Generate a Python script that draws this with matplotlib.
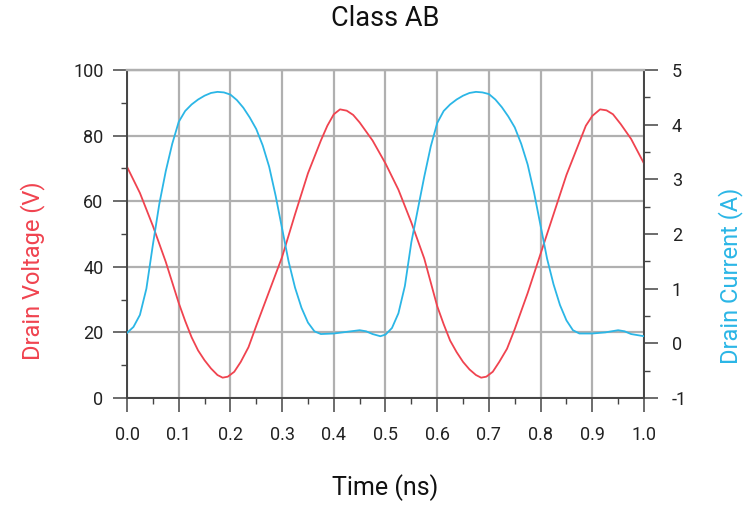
import matplotlib
matplotlib.use("Agg")
import matplotlib.pyplot as plt
from matplotlib.ticker import MultipleLocator

plt.rcParams['font.family'] = ['Roboto', 'DejaVu Sans']
plt.rcParams['axes.unicode_minus'] = False

# Drain voltage waveform (V)
time_v = [0.000, 0.025, 0.050, 0.075, 0.100, 0.1125, 0.125, 0.1375, 0.150, 0.1625,
          0.175, 0.185, 0.195, 0.2075, 0.220, 0.235, 0.250, 0.275, 0.300, 0.325,
          0.350, 0.375, 0.3875, 0.400, 0.412, 0.425, 0.4375, 0.450, 0.475, 0.500,
          0.525, 0.550, 0.575, 0.600, 0.6125, 0.625, 0.6375, 0.650, 0.6625, 0.675,
          0.685, 0.695, 0.7075, 0.720, 0.735, 0.750, 0.775, 0.800, 0.825, 0.850,
          0.875, 0.8875, 0.900, 0.915, 0.9275, 0.940, 0.955, 0.975, 1.000]
voltage = [70.5, 62.5, 52.5, 41.5, 29.0, 23.5, 18.5, 14.5, 11.5, 9.0,
           7.0, 6.2, 6.5, 8.0, 11.0, 15.5, 22.0, 32.5, 43.0, 56.0,
           68.5, 78.5, 83.0, 86.5, 88.0, 87.6, 86.3, 84.0, 78.5, 71.5,
           63.5, 53.5, 42.5, 28.0, 22.5, 17.5, 14.0, 11.0, 8.7, 7.0,
           6.2, 6.5, 8.0, 11.0, 15.0, 21.0, 32.0, 44.0, 56.0, 68.0,
           78.0, 83.0, 86.0, 88.0, 87.7, 86.5, 83.5, 79.0, 71.5]

# Drain current waveform (A)
time_i = [0.000, 0.0125, 0.025, 0.0375, 0.050, 0.0625, 0.075, 0.0875, 0.100, 0.1125,
          0.125, 0.1375, 0.150, 0.1625, 0.175, 0.1875, 0.200, 0.2125, 0.225, 0.2375,
          0.250, 0.2625, 0.275, 0.2875, 0.300, 0.3125, 0.325, 0.3375, 0.350, 0.3625,
          0.375, 0.400, 0.425, 0.450, 0.4625, 0.475, 0.490, 0.500, 0.5125, 0.525,
          0.5375, 0.550, 0.5625, 0.575, 0.5875, 0.600, 0.6125, 0.625, 0.6375, 0.650,
          0.6625, 0.675, 0.6875, 0.700, 0.7125, 0.725, 0.7375, 0.750, 0.7625, 0.775,
          0.7875, 0.800, 0.8125, 0.825, 0.8375, 0.850, 0.8625, 0.875, 0.900, 0.925,
          0.950, 0.9625, 0.975, 1.000]
current = [0.19, 0.30, 0.52, 1.00, 1.80, 2.55, 3.15, 3.65, 4.05, 4.25,
           4.37, 4.46, 4.53, 4.58, 4.60, 4.59, 4.55, 4.45, 4.31, 4.13,
           3.92, 3.62, 3.23, 2.70, 2.10, 1.50, 1.02, 0.65, 0.38, 0.22,
           0.17, 0.18, 0.21, 0.24, 0.22, 0.17, 0.13, 0.16, 0.28, 0.55,
           1.05, 1.85, 2.45, 3.05, 3.60, 4.03, 4.25, 4.37, 4.46, 4.53,
           4.58, 4.60, 4.59, 4.56, 4.46, 4.32, 4.15, 3.95, 3.65, 3.27,
           2.75, 2.15, 1.55, 1.08, 0.70, 0.42, 0.24, 0.18, 0.18, 0.20,
           0.24, 0.22, 0.17, 0.13]

x_ticks = [0.0, 0.1, 0.2, 0.3, 0.4, 0.5, 0.6, 0.7, 0.8, 0.9, 1.0]
v_ticks = [0, 20, 40, 60, 80, 100]
i_ticks = [-1, 0, 1, 2, 3, 4, 5]

RED = '#f0434f'
BLUE = '#2bb6e6'
GRID = '#b0b0b0'
AXIS = '#444444'

W, H = 751, 505
L, R, T, B = 127, 644, 70, 398

fig = plt.figure(figsize=(W / 100, H / 100), dpi=100)
ax = fig.add_axes([L / W, 1 - B / H, (R - L) / W, (B - T) / H])
ax2 = ax.twinx()

ax.plot(time_v, voltage, color=RED, lw=1.3, zorder=3)
ax2.plot(time_i, current, color=BLUE, lw=1.3, zorder=3)

ax.set_xlim(0, 1)
ax.set_ylim(0, 100)
ax2.set_ylim(-1, 5)

ax.set_xticks(x_ticks)
ax.set_xticklabels([f'{t:.1f}' for t in x_ticks])
ax.set_yticks(v_ticks)
ax2.set_yticks(i_ticks)
ax.xaxis.set_minor_locator(MultipleLocator(0.05))
ax.yaxis.set_minor_locator(MultipleLocator(10))
ax2.yaxis.set_minor_locator(MultipleLocator(0.5))

ax.grid(True, which='major', color=GRID, lw=1.6, zorder=0)
ax.set_axisbelow(True)

for a in (ax, ax2):
    for sp in a.spines.values():
        sp.set_color(AXIS)
        sp.set_linewidth(1.2)
    a.spines['top'].set_color(GRID)
    a.spines['top'].set_linewidth(1.6)
    a.tick_params(which='major', direction='out', length=10, width=1.1,
                  color=AXIS, labelsize=13, labelcolor='#222222')
    a.tick_params(which='minor', direction='out', length=4.5, width=1.0, color=AXIS)
ax.tick_params(axis='x', which='major', pad=10)
ax.tick_params(axis='y', which='major', pad=7)
ax2.tick_params(axis='y', which='major', pad=10)

px_x = lambda x: (x - L) / (R - L)
px_y = lambda y: (B - y) / (B - T)

ax.set_title('Class AB', fontsize=19.5, color='#111111', pad=0,
             y=px_y(19), va='center')
ax.set_xlabel('Time (ns)', fontsize=18, color='#111111')
ax.xaxis.set_label_coords(0.5, px_y(488))
ax.xaxis.label.set_va('center')
ax.set_ylabel('Drain Voltage (V)', fontsize=17, color=RED)
ax.yaxis.set_label_coords(px_x(33), px_y(271))
ax.yaxis.label.set_va('center')
ax2.set_ylabel('Drain Current (A)', fontsize=17, color=BLUE)
ax2.yaxis.set_label_coords(px_x(731), px_y(276))
ax2.yaxis.label.set_va('center')

fig.savefig('out.png', dpi=100)
